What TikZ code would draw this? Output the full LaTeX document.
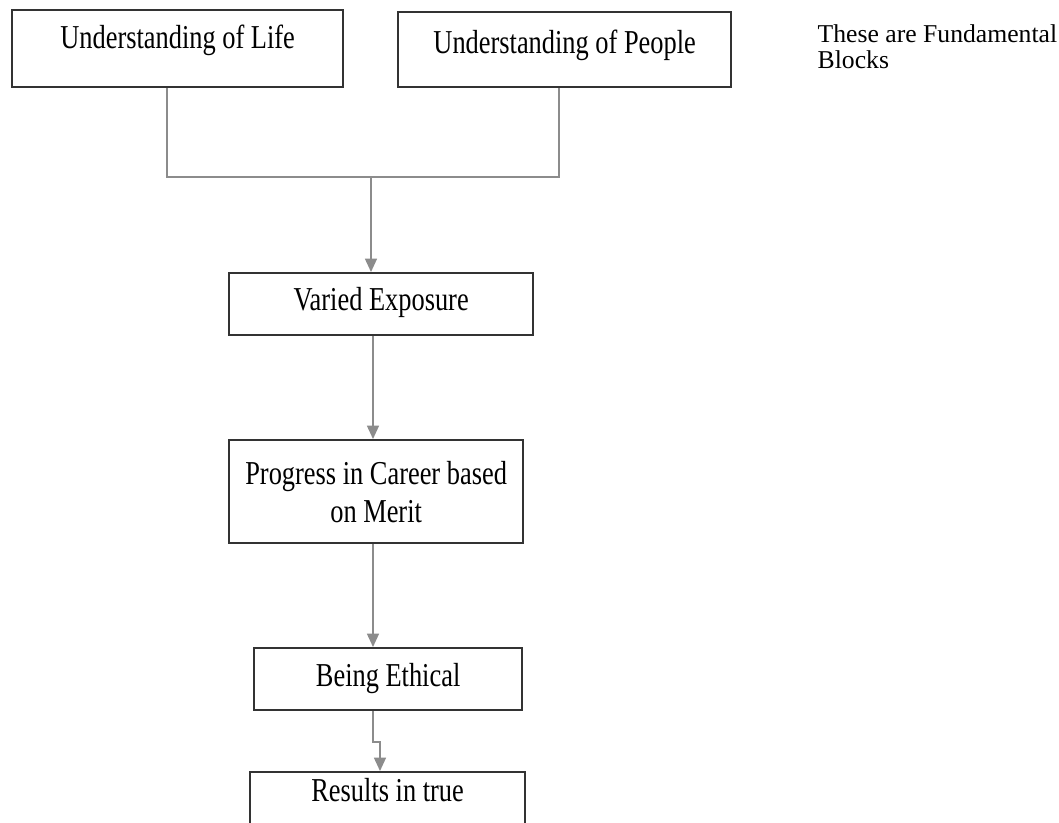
\documentclass[tikz,border=0pt]{standalone}
\usepackage{fontspec}
\setmainfont{Liberation Serif}
\usepackage{graphicx}
\usetikzlibrary{arrows.meta}
\newcommand{\narrow}[1]{\scalebox{0.79}[1]{#1}}
\begin{document}
\begin{tikzpicture}[x=0.01cm,y=-0.01cm,
	block/.style={draw=black!80, line width=0.6pt, inner sep=0pt, anchor=north west,
		align=center, font=\fontsize{9.5}{10.8}\selectfont},
	note/.style={inner sep=0pt, anchor=north west, align=left, font=\fontsize{7.3}{7.4}\selectfont},
	link/.style={draw=black!45, line width=0.45pt},
	flow/.style={link, -{Triangle[width=3.4pt,length=3.8pt]}}]
			\path[use as bounding box, clip] (0,0) rectangle (1059,823);
			% fundamental blocks
			\node[block, minimum width=3.31cm, text height=0.38cm, text depth=0.39cm] (life) at (11,9){\narrow{Understanding of Life}};
			\node[block, minimum width=3.33cm, text height=0.41cm, text depth=0.34cm] (people) at (397,11){\narrow{Understanding of People}};
			\node[note] (fundamental) at (817,24){These are Fundamental\\Blocks};
			% chain
			\node[block, minimum width=3.04cm, text height=0.37cm, text depth=0.25cm] (exposure) at (228,272){\narrow{Varied Exposure}};
			\node[block, minimum width=2.94cm, minimum height=1.03cm] (career) at (228,439){\narrow{Progress in Career based}\\\narrow{on Merit}};
			\node[block, minimum width=2.68cm, text height=0.38cm, text depth=0.24cm] (ethical) at (253,647){\narrow{Being Ethical}};
			\node[block, minimum width=2.75cm, text height=0.29cm, text depth=0.48cm] (results) at (249,771){\narrow{Results in true}};
			% connectors
			\coordinate (lifeleg) at (167,177);
			\coordinate (peopleleg) at (559,177);
			\coordinate (join) at (371,177);
			\coordinate (jog) at (373,742);
			\draw[link] (life.south -| lifeleg) to (lifeleg) to (peopleleg) to (people.south -| peopleleg);
			\draw[flow] (join) to (exposure.north -| join);
			\draw[flow] (exposure.south -| jog) to (career.north -| jog);
			\draw[flow] (career.south -| jog) to (ethical.north -| jog);
			\draw[flow] (ethical.south -| jog) to (jog) to ++(7,0) to (results.north -| 380,0);
		\end{tikzpicture}
\end{document}
